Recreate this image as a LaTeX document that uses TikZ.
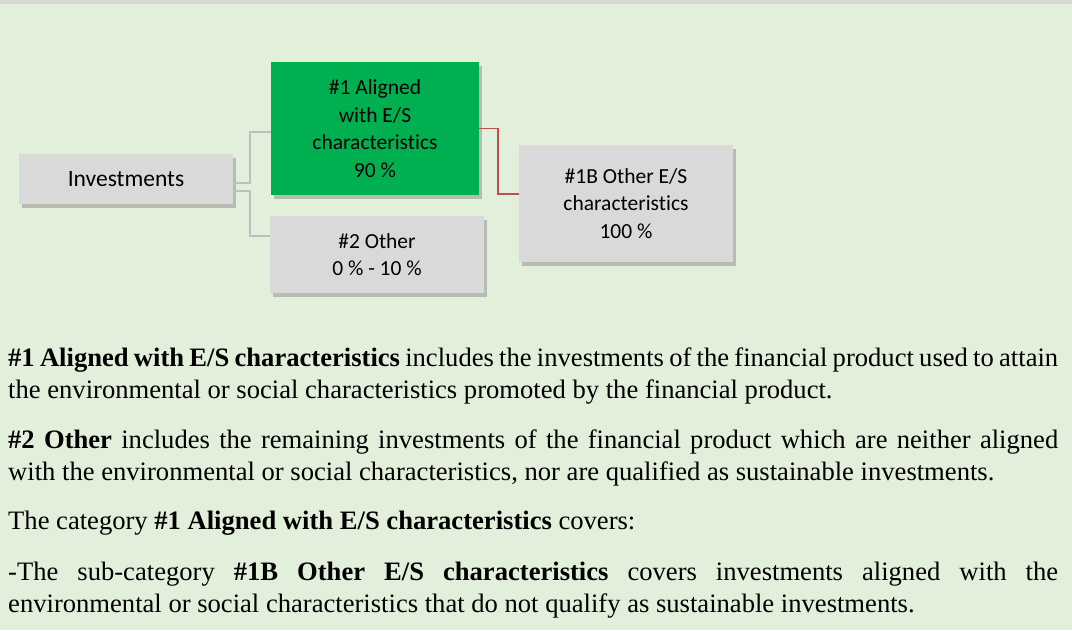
\documentclass[tikz,border=0pt]{standalone}
\usepackage{fontspec}
\setmainfont{Liberation Serif}
\newfontfamily\boxfont[Ligatures=NoCommon]{Carlito}
\usepackage{xcolor}
\usetikzlibrary{positioning,shadows}
\definecolor{bg}{HTML}{E2EFDA}
\definecolor{topbar}{HTML}{D6D9D4}
\definecolor{boxgrey}{HTML}{D9D9D9}
\definecolor{esgreen}{HTML}{00B050}
\definecolor{link}{HTML}{BFBFBF}
\definecolor{redlink}{HTML}{C0504D}
\hyphenpenalty=10000
\tolerance=9999

\begin{document}
\begin{tikzpicture}[
  x=1pt, y=-1pt,
  box/.style={fill=boxgrey, minimum width=214pt, inner sep=0pt, align=center,
    font=\boxfont\fontsize{21.5}{27.5}\selectfont,
    drop shadow={shadow xshift=3pt, shadow yshift=-4pt, opacity=0.3, fill=black!70}},
  greenbox/.style={box, fill=esgreen, minimum width=208pt},
  link/.style={draw=link, line width=1.6pt},
  redlink/.style={draw=redlink, line width=1.6pt},
  para/.style={anchor=base west, inner sep=0pt, text width=1050pt, align=justify,
    font=\fontsize{26.6}{32}\selectfont}
]
\useasboundingbox (0,0) rectangle (1072,630);
\fill[bg] (0,0) rectangle (1072,630);
\fill[topbar] (0,0) rectangle (1072,4);

% tree
\node[box, minimum height=50pt, font=\boxfont\fontsize{23.5}{28}\selectfont] (invest) at (126,179) {Investments};
\node[greenbox, minimum height=133pt] (aligned) at (375,128.5) {\#1 Aligned\\with E/S\\characteristics\\90 \%};
\node[box, minimum height=77pt] (other) at (377,254.5) {\#2 Other\\0 \% - 10 \%};
\node[box, minimum height=117pt] (otheres) at (626,203.5) {\#1B Other E/S\\characteristics\\100 \%};

\draw[link] ([yshift=-4pt]invest.east) -- ++(17,0) |- ([yshift=-3.5pt]aligned.west);
\draw[link] ([yshift=-12pt]invest.east) -- ++(17,0) |- ([yshift=18.5pt]other.west);
\draw[redlink] (aligned.east) -- ++(19,0) |- ([yshift=9.5pt]otheres.west);

% explanations
\node[para] (p1) at (8,366) {\textbf{\#1 Aligned with E/S characteristics} includes the investments of the financial product used to attain\linebreak the environmental or social characteristics promoted by the financial product.};
\node[para] (p2) at (8,448) {\textbf{\#2 Other} includes the remaining investments of the financial product which are neither aligned\linebreak with the environmental or social characteristics, nor are qualified as sustainable investments.};
\node[para] (p3) at (8,529) {The category \textbf{\#1 Aligned with E/S characteristics} covers:};
\node[para] (p4) at (8,580) {-The sub-category \textbf{\#1B Other E/S characteristics} covers investments aligned with the\linebreak environmental or social characteristics that do not qualify as sustainable investments.};
\end{tikzpicture}
\end{document}
